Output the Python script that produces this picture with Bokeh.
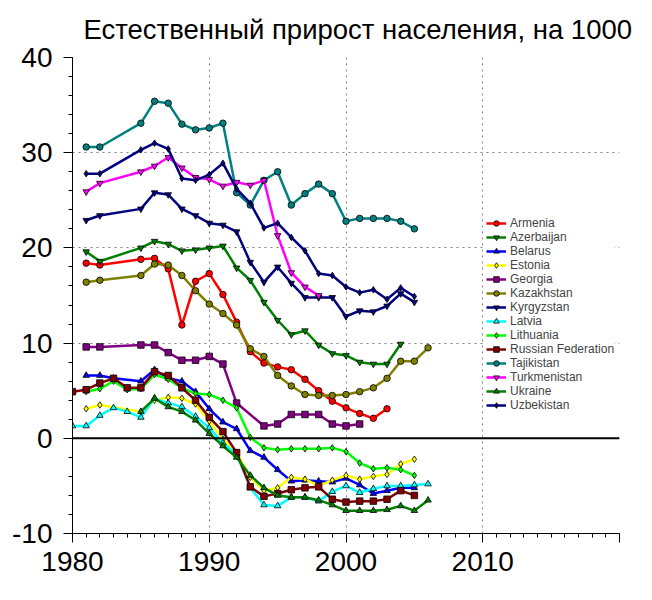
from bokeh.plotting import figure
from bokeh.models import Span, Legend, LegendItem, SingleIntervalTicker, Range1d
from bokeh.embed import file_html
from bokeh.resources import INLINE

TITLE = "Естественный прирост населения, на 1000"

armenia_years = [1981, 1982, 1985, 1986, 1987, 1988, 1989, 1990, 1991, 1992, 1993, 1994, 1995, 1996, 1997, 1998, 1999, 2000, 2001, 2002, 2003]
armenia_vals = [18.4, 18.2, 18.8, 18.9, 17.8, 11.9, 16.5, 17.3, 15.1, 12.2, 9.1, 7.9, 7.5, 7.2, 6.2, 5.0, 3.9, 3.2, 2.6, 2.1, 3.1]

azerbaijan_years = [1981, 1982, 1985, 1986, 1987, 1988, 1989, 1990, 1991, 1992, 1993, 1994, 1995, 1996, 1997, 1998, 1999, 2000, 2001, 2002, 2003, 2004]
azerbaijan_vals = [19.6, 18.6, 20.0, 20.7, 20.4, 19.7, 19.8, 20.0, 20.2, 17.9, 16.6, 14.3, 12.4, 10.9, 11.3, 9.8, 8.9, 8.7, 8.0, 7.8, 7.8, 9.9]

belarus_years = [1981, 1982, 1983, 1985, 1986, 1987, 1988, 1989, 1990, 1991, 1992, 1993, 1994, 1995, 1996, 1997, 1998, 1999, 2000, 2001, 2002, 2003, 2004, 2005]
belarus_vals = [6.6, 6.6, 6.3, 6.0, 7.2, 6.3, 6.0, 4.9, 3.1, 1.7, 1.0, -1.3, -2.0, -3.3, -4.5, -4.4, -4.5, -4.6, -4.2, -4.9, -5.8, -5.5, -5.2, -5.2]

estonia_years = [1981, 1982, 1985, 1986, 1987, 1988, 1989, 1990, 1991, 1992, 1993, 1994, 1995, 1996, 1997, 1998, 1999, 2000, 2001, 2002, 2003, 2004, 2005]
estonia_vals = [3.1, 3.5, 2.8, 4.0, 4.3, 4.2, 3.6, 1.8, -0.1, -1.5, -4.1, -5.5, -5.2, -4.1, -4.3, -5.0, -4.4, -3.9, -4.3, -4.0, -3.8, -2.7, -2.2]

georgia_years = [1981, 1982, 1985, 1986, 1987, 1988, 1989, 1990, 1991, 1992, 1994, 1995, 1996, 1997, 1998, 1999, 2000, 2001]
georgia_vals = [9.6, 9.6, 9.8, 9.8, 9.0, 8.2, 8.2, 8.6, 7.8, 3.7, 1.3, 1.5, 2.5, 2.5, 2.5, 1.5, 1.3, 1.5]

kazakhstan_years = [1981, 1982, 1985, 1986, 1987, 1988, 1989, 1990, 1991, 1992, 1993, 1994, 1995, 1996, 1997, 1998, 1999, 2000, 2001, 2002, 2003, 2004, 2005, 2006]
kazakhstan_vals = [16.4, 16.6, 17.1, 18.3, 18.2, 17.1, 15.5, 14.1, 13.1, 11.9, 9.4, 8.6, 6.6, 5.5, 4.6, 4.5, 4.5, 4.6, 4.9, 5.3, 6.3, 8.1, 8.1, 9.5]

kyrgyzstan_years = [1981, 1982, 1985, 1986, 1987, 1988, 1989, 1990, 1991, 1992, 1993, 1994, 1995, 1996, 1997, 1998, 1999, 2000, 2001, 2002, 2003, 2004, 2005]
kyrgyzstan_vals = [22.9, 23.4, 24.1, 25.8, 25.6, 24.1, 23.4, 22.6, 22.4, 21.7, 18.5, 16.4, 18.0, 16.3, 14.8, 14.8, 14.8, 12.8, 13.4, 13.3, 13.9, 15.2, 14.3]

latvia_years = [1980, 1981, 1982, 1983, 1984, 1985, 1986, 1987, 1988, 1989, 1990, 1991, 1992, 1993, 1994, 1995, 1996, 1997, 1998, 1999, 2000, 2001, 2002, 2003, 2004, 2005, 2006]
latvia_vals = [1.3, 1.3, 2.4, 3.2, 2.8, 2.2, 4.2, 3.7, 3.3, 2.3, 1.1, -0.5, -1.7, -5.2, -7.0, -7.1, -6.2, -6.2, -6.6, -5.6, -5.0, -5.7, -5.3, -5.0, -5.0, -4.9, -4.8]

lithuania_years = [1981, 1982, 1983, 1984, 1985, 1986, 1987, 1988, 1989, 1990, 1991, 1992, 1993, 1994, 1995, 1996, 1997, 1998, 1999, 2000, 2001, 2002, 2003, 2004, 2005]
lithuania_vals = [4.9, 5.2, 6.0, 5.1, 5.2, 6.7, 6.2, 5.3, 4.7, 4.6, 4.0, 3.2, 0.1, -1.0, -1.2, -1.1, -1.1, -1.1, -1.0, -1.4, -2.6, -3.2, -3.1, -3.3, -3.9]

russia_years = [1980, 1981, 1982, 1983, 1984, 1985, 1986, 1987, 1988, 1989, 1990, 1991, 1992, 1993, 1994, 1995, 1996, 1997, 1998, 1999, 2000, 2001, 2002, 2003, 2004, 2005]
russia_vals = [4.9, 5.1, 5.8, 6.3, 5.3, 5.3, 7.0, 6.6, 5.3, 4.0, 2.2, 0.7, -1.5, -5.1, -6.1, -5.8, -5.4, -5.2, -5.1, -6.4, -6.7, -6.6, -6.6, -6.4, -5.5, -6.0]

tajikistan_years = [1981, 1982, 1985, 1986, 1987, 1988, 1989, 1990, 1991, 1992, 1993, 1994, 1995, 1996, 1997, 1998, 1999, 2000, 2001, 2002, 2003, 2004, 2005]
tajikistan_vals = [30.6, 30.6, 33.1, 35.4, 35.2, 33.0, 32.4, 32.6, 33.1, 25.8, 24.5, 27.1, 28.0, 24.5, 25.7, 26.7, 25.7, 22.8, 23.1, 23.1, 23.1, 22.8, 22.0]

turkmenistan_years = [1981, 1982, 1985, 1986, 1987, 1988, 1989, 1990, 1991, 1992, 1993, 1994, 1995, 1996, 1997, 1998]
turkmenistan_vals = [25.9, 26.8, 28.0, 28.6, 29.5, 28.4, 27.4, 27.2, 26.5, 26.9, 26.6, 27.1, 21.3, 17.4, 15.9, 15.0]

ukraine_years = [1985, 1986, 1987, 1988, 1989, 1990, 1991, 1992, 1993, 1994, 1995, 1996, 1997, 1998, 1999, 2000, 2001, 2002, 2003, 2004, 2005, 2006]
ukraine_vals = [2.8, 4.2, 3.3, 2.8, 1.9, 0.5, -0.8, -2.0, -3.9, -5.2, -6.0, -6.2, -6.2, -6.5, -7.0, -7.6, -7.6, -7.6, -7.5, -7.1, -7.6, -6.5]

uzbekistan_years = [1981, 1982, 1985, 1986, 1987, 1988, 1989, 1990, 1991, 1992, 1993, 1994, 1995, 1996, 1997, 1998, 1999, 2000, 2001, 2002, 2003, 2004, 2005]
uzbekistan_vals = [27.8, 27.8, 30.3, 31.0, 30.4, 27.3, 27.1, 27.7, 28.9, 26.2, 24.7, 22.1, 22.6, 21.1, 19.7, 17.3, 17.1, 15.9, 15.3, 15.6, 14.6, 15.8, 14.9]

series = [
    ("Armenia", armenia_years, armenia_vals, "#FF0000", "circle"),
    ("Azerbaijan", azerbaijan_years, azerbaijan_vals, "#008000", "inverted_triangle"),
    ("Belarus", belarus_years, belarus_vals, "#0000FF", "triangle"),
    ("Estonia", estonia_years, estonia_vals, "#FFFF00", "diamond"),
    ("Georgia", georgia_years, georgia_vals, "#800080", "square"),
    ("Kazakhstan", kazakhstan_years, kazakhstan_vals, "#808000", "circle"),
    ("Kyrgyzstan", kyrgyzstan_years, kyrgyzstan_vals, "#000080", "inverted_triangle"),
    ("Latvia", latvia_years, latvia_vals, "#00FFFF", "triangle"),
    ("Lithuania", lithuania_years, lithuania_vals, "#00FF00", "diamond"),
    ("Russian Federation", russia_years, russia_vals, "#800000", "square"),
    ("Tajikistan", tajikistan_years, tajikistan_vals, "#008080", "circle"),
    ("Turkmenistan", turkmenistan_years, turkmenistan_vals, "#FF00FF", "inverted_triangle"),
    ("Ukraine", ukraine_years, ukraine_vals, "#008000", "triangle"),
    ("Uzbekistan", uzbekistan_years, uzbekistan_vals, "#000080", "diamond"),
]

FONT = "Liberation Sans"

p = figure(width=636, height=584, output_backend="svg", toolbar_location=None,
           x_range=Range1d(1980, 2020), y_range=Range1d(-10, 40),
           min_border_left=72, min_border_top=57, min_border_right=17, min_border_bottom=51)
p.outline_line_color = None
p.background_fill_color = "white"

p.title.text = TITLE
p.title.text_font = FONT
p.title.text_font_size = "27.5px"
p.title.text_font_style = "normal"
p.title.text_color = "black"
p.title.align = "left"
p.title.vertical_align = "top"
p.title.offset = 11
p.title.standoff = 22

p.xaxis.ticker = SingleIntervalTicker(interval=10, num_minor_ticks=10)
p.yaxis.ticker = SingleIntervalTicker(interval=10, num_minor_ticks=5)
p.yaxis.major_label_overrides = {-10: "-10"}
p.xaxis.major_label_overrides = {2020: ""}
for ax in (p.xaxis[0], p.yaxis[0]):
    ax.major_label_text_font = FONT
    ax.major_label_text_font_size = "28px"
    ax.major_label_text_color = "black"
    ax.axis_line_color = "black"
    ax.major_tick_line_color = "black"
    ax.minor_tick_line_color = "black"
    ax.major_tick_out = 9
    ax.major_tick_in = 0
    ax.minor_tick_out = 4
    ax.minor_tick_in = 0
p.xaxis.major_label_standoff = 9
p.yaxis.major_label_standoff = 11

for g in (p.xgrid[0], p.ygrid[0]):
    g.grid_line_color = "#808080"
    g.grid_line_dash = "2 4"
    g.grid_line_width = 1

p.add_layout(Span(location=0, dimension="width", line_color="black", line_width=2))

items = []
for name, xs, ys, color, marker in series:
    lr = p.line(xs, ys, line_color=color, line_width=2.5)
    sr = p.scatter(xs, ys, marker=marker, size=6.5, fill_color=color, line_color="black", line_width=0.8)
    items.append(LegendItem(label=name, renderers=[lr, sr]))

legend = Legend(items=items, location=(414, 121), padding=5, spacing=0, margin=0,
                glyph_width=20, glyph_height=14, label_height=14, label_standoff=4,
                label_text_font=FONT, label_text_font_size="12px",
                background_fill_color="white", background_fill_alpha=1.0,
                border_line_color=None)
p.add_layout(legend)

open("out.html", "w").write(file_html(p, INLINE))
